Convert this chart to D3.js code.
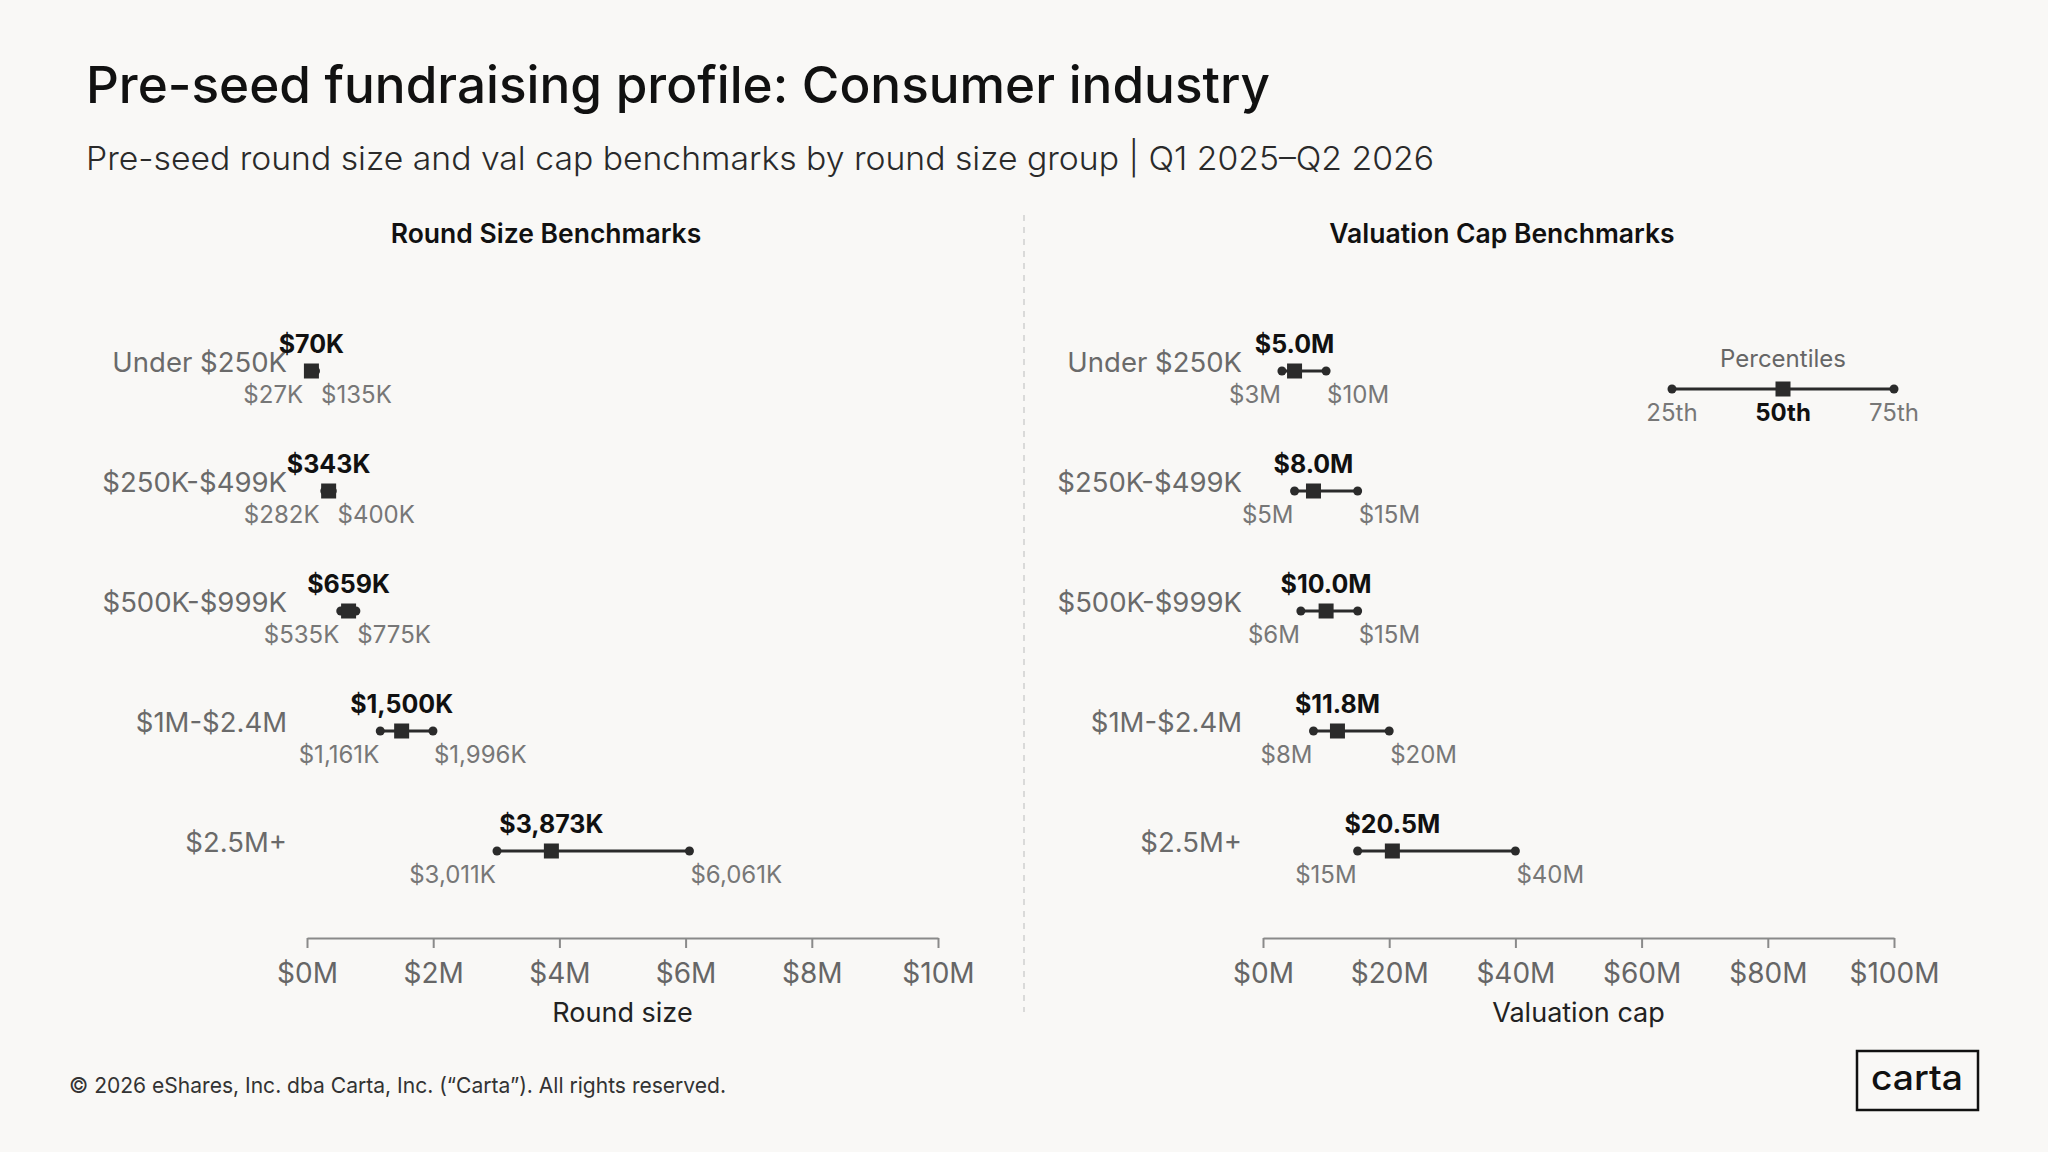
<!DOCTYPE html>
<html>
<head>
<meta charset="utf-8">
<script src="https://cdn.jsdelivr.net/npm/d3@7"></script>
<style>
  html, body { margin: 0; padding: 0; background: #f9f8f6; }
  svg { display: block; }
  text { font-family: Inter, "Noto Sans", "DejaVu Sans", sans-serif; }
</style>
</head>
<body>
<svg id="chart" width="2048" height="1152"></svg>
<script>
// ---------------- DATA ----------------
const categories = ["Under $250K", "$250K-$499K", "$500K-$999K", "$1M-$2.4M", "$2.5M+"];

// Round size benchmarks, in $K
const roundP25 = [27, 282, 535, 1161, 3011];
const roundP50 = [70, 343, 659, 1500, 3873];
const roundP75 = [135, 400, 775, 1996, 6061];

// Valuation cap benchmarks, in $M
const capP25 = [3, 5, 6, 8, 15];
const capP50 = [5.0, 8.0, 10.0, 11.8, 20.5];
const capP75 = [10, 15, 15, 20, 40];

// Axis ticks
const roundTicks = [0, 2000, 4000, 6000, 8000, 10000];
const roundTickLabels = ["$0M", "$2M", "$4M", "$6M", "$8M", "$10M"];
const capTicks = [0, 20, 40, 60, 80, 100];
const capTickLabels = ["$0M", "$20M", "$40M", "$60M", "$80M", "$100M"];

const legendLabels = ["25th", "50th", "75th"];

// ---------------- LAYOUT ----------------
const svg = d3.select("#chart");
const W = 2048, H = 1152;
const INK = "#2b2b2b";

svg.append("rect").attr("width", W).attr("height", H).attr("fill", "#f9f8f6");

function fitWidth(sel, w) {
  const n = sel.node().getComputedTextLength();
  if (n > 0) sel.attr("textLength", w).attr("lengthAdjust", "spacingAndGlyphs");
  return sel;
}

// Title + subtitle
fitWidth(svg.append("text").attr("x", 86).attr("y", 103)
  .attr("font-size", 51).attr("font-weight", 500).attr("fill", "#111")
  .text("Pre-seed fundraising profile: Consumer industry"), 1184);

fitWidth(svg.append("text").attr("x", 86).attr("y", 170)
  .attr("font-size", 33).attr("font-weight", 300).attr("fill", "#2a2a2a")
  .text("Pre-seed round size and val cap benchmarks by round size group | Q1 2025\u2013Q2 2026"), 1348);

// Separator
svg.append("line").attr("x1", 1024).attr("x2", 1024).attr("y1", 215).attr("y2", 1012)
  .attr("stroke", "#cfcfcf").attr("stroke-width", 1.5).attr("stroke-dasharray", "6,6");

const y = d3.scalePoint().domain(categories).range([371, 851]);

function panel(opts) {
  const g = svg.append("g");
  const x = d3.scaleLinear().domain(opts.domain).range(opts.range);

  g.append("text").attr("x", opts.titleX).attr("y", 243).attr("text-anchor", "middle")
    .attr("font-size", 26.5).attr("font-weight", 600).attr("fill", "#111").text(opts.title);

  // axis
  const axis = d3.axisBottom(x).tickValues(opts.ticks)
    .tickFormat((d, i) => opts.tickLabels[i]).tickSize(10).tickPadding(15).tickSizeOuter(0);
  const ag = g.append("g").attr("transform", `translate(0,938)`).call(axis);
  ag.select(".domain").attr("stroke", "#8a8a8a").attr("stroke-width", 2);
  ag.selectAll(".tick line").attr("stroke", "#8a8a8a").attr("stroke-width", 2);
  ag.selectAll(".tick text").attr("font-size", 28).attr("fill", "#666")
    .attr("font-family", 'Inter, "Noto Sans", sans-serif').attr("font-weight", 400);

  g.append("text").attr("x", (opts.range[0] + opts.range[1]) / 2).attr("y", 1022)
    .attr("text-anchor", "middle").attr("font-size", 27).attr("fill", "#222").text(opts.axisTitle);

  const rows = categories.map((c, i) => ({
    c, lo: opts.lo[i], med: opts.med[i], hi: opts.hi[i]
  }));

  const row = g.selectAll(".row").data(rows).join("g").attr("class", "row");

  // category labels
  row.append("text").attr("x", opts.labelX).attr("y", d => y(d.c) + 1)
    .attr("text-anchor", "end").attr("font-size", 27.5).attr("fill", "#6a6a6a").text(d => d.c);

  // range lines
  row.append("line").attr("x1", d => x(d.lo)).attr("x2", d => x(d.hi))
    .attr("y1", d => y(d.c)).attr("y2", d => y(d.c)).attr("stroke", INK).attr("stroke-width", 3);
  row.append("circle").attr("cx", d => x(d.lo)).attr("cy", d => y(d.c)).attr("r", 4.5).attr("fill", INK);
  row.append("circle").attr("cx", d => x(d.hi)).attr("cy", d => y(d.c)).attr("r", 4.5).attr("fill", INK);
  row.append("rect").attr("x", d => x(d.med) - 7.5).attr("y", d => y(d.c) - 7.5)
    .attr("width", 15).attr("height", 15).attr("fill", INK);

  // median label
  row.append("text").attr("x", d => x(d.med)).attr("y", d => y(d.c) - 18)
    .attr("text-anchor", "middle").attr("font-size", 25).attr("font-weight", 700).attr("fill", "#111")
    .text(d => opts.fmtMed(d.med));

  // low/high labels with minimum separation
  row.each(function(d) {
    let le = x(d.lo) - 1, hs = x(d.hi) + 1;
    const minGap = 18;
    if (hs - le < minGap) {
      const m = (le + hs) / 2;
      le = m - minGap / 2; hs = m + minGap / 2;
    }
    const s = d3.select(this);
    s.append("text").attr("x", le).attr("y", y(d.c) + 32).attr("text-anchor", "end")
      .attr("font-size", 24).attr("fill", "#777").text(opts.fmtEnd(d.lo));
    s.append("text").attr("x", hs).attr("y", y(d.c) + 32).attr("text-anchor", "start")
      .attr("font-size", 24).attr("fill", "#777").text(opts.fmtEnd(d.hi));
  });
  return x;
}

const fmtK = v => "$" + d3.format(",")(v) + "K";

panel({
  title: "Round Size Benchmarks", titleX: 546, axisTitle: "Round size",
  domain: [0, 10000], range: [307, 938], ticks: roundTicks, tickLabels: roundTickLabels,
  labelX: 287, lo: roundP25, med: roundP50, hi: roundP75,
  fmtMed: fmtK, fmtEnd: fmtK
});

panel({
  title: "Valuation Cap Benchmarks", titleX: 1502, axisTitle: "Valuation cap",
  domain: [0, 100], range: [1263, 1894], ticks: capTicks, tickLabels: capTickLabels,
  labelX: 1242, lo: capP25, med: capP50, hi: capP75,
  fmtMed: v => "$" + v.toFixed(1) + "M", fmtEnd: v => "$" + v + "M"
});

// Legend
const lg = svg.append("g");
const lx = [1672, 1783, 1894], ly = 389;
lg.append("text").attr("x", lx[1]).attr("y", 367).attr("text-anchor", "middle")
  .attr("font-size", 24).attr("fill", "#666").text("Percentiles");
lg.append("line").attr("x1", lx[0]).attr("x2", lx[2]).attr("y1", ly).attr("y2", ly)
  .attr("stroke", INK).attr("stroke-width", 3);
lg.append("circle").attr("cx", lx[0]).attr("cy", ly).attr("r", 4.5).attr("fill", INK);
lg.append("circle").attr("cx", lx[2]).attr("cy", ly).attr("r", 4.5).attr("fill", INK);
lg.append("rect").attr("x", lx[1] - 7.5).attr("y", ly - 7.5).attr("width", 15).attr("height", 15).attr("fill", INK);
legendLabels.forEach((t, i) => {
  lg.append("text").attr("x", lx[i]).attr("y", 421).attr("text-anchor", "middle")
    .attr("font-size", 24).attr("font-weight", i === 1 ? 700 : 400)
    .attr("fill", i === 1 ? "#111" : "#777").text(t);
});

// Footer
fitWidth(svg.append("text").attr("x", 69).attr("y", 1093)
  .attr("font-size", 22).attr("fill", "#333")
  .text("\u00a9 2026 eShares, Inc. dba Carta, Inc. (\u201cCarta\u201d). All rights reserved."), 657);

// Logo
svg.append("rect").attr("x", 1857).attr("y", 1051).attr("width", 121).attr("height", 59)
  .attr("fill", "none").attr("stroke", "#111").attr("stroke-width", 2.5);
fitWidth(svg.append("text").attr("x", 1917).attr("y", 1090).attr("text-anchor", "middle")
  .attr("font-size", 34).attr("font-weight", 500).attr("fill", "#111").text("carta"), 92);
</script>
</body>
</html>
